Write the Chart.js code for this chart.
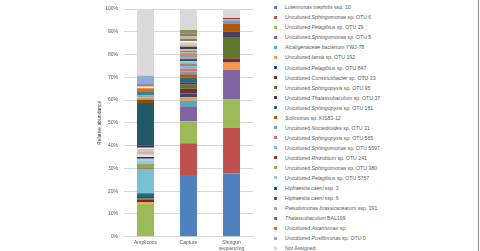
<!DOCTYPE html>
<html><head><meta charset="utf-8">
<script src="https://cdn.jsdelivr.net/npm/chart.js@4"></script>
<style>
html,body{margin:0;padding:0;background:#fff;}
body{width:480px;height:251px;position:relative;overflow:hidden;font-family:"Liberation Sans",Arial,sans-serif;}
#wrap{position:absolute;left:0;top:0;width:260px;height:251px;}
#legend{position:absolute;left:272px;top:0;width:205px;height:251px;}
.li{position:absolute;left:0;height:10px;width:205px;}
.sw{position:absolute;left:2px;top:3.5px;width:3px;height:3px;}
.tx{position:absolute;left:13px;top:0;line-height:10px;font-size:5.2px;color:#595959;white-space:nowrap;}
#edge{position:absolute;left:478px;top:0;width:1px;height:251px;background:#8c8c8c;}
</style></head>
<body>
<div id="wrap"><canvas id="c"></canvas></div>
<div id="legend"></div>
<div id="edge"></div>
<script>
const categories = ['Amplicons', 'Capture', ['Shotgun', 'sequencing']];
const yTicks = [0, 10, 20, 30, 40, 50, 60, 70, 80, 90, 100];

const seriesNames = [
  'Luteimonas mephitis ssp. 10',
  'Uncultured Sphingomonas sp. OTU 6',
  'Uncultured Pelagibius sp. OTU 29',
  'Uncultured Sphingomonas sp. OTU 5',
  'Alcaligenaceae bacterium YWJ-78',
  'Uncultured Iamia sp. OTU 192',
  'Uncultured Pelagibius sp. OTU 847',
  'Uncultured Constrictibacter sp. OTU 33',
  'Uncultured Sphingopyxis sp. OTU 95',
  'Uncultured Thalassobaculum sp. OTU 37',
  'Uncultured Sphingopyxis sp. OTU 181',
  'Solimonas sp. KIS83-12',
  'Uncultured Nocardioides sp. OTU 31',
  'Uncultured Sphingopyxis sp. OTU 565',
  'Uncultured Sphingomonas sp. OTU 5597',
  'Uncultured Rhizobium sp. OTU 241',
  'Uncultured Sphingomonas sp. OTU 380',
  'Uncultured Pelagibius sp. OTU 5757',
  'Unlisted taxon 1', 'Unlisted taxon 2', 'Unlisted taxon 3', 'Unlisted taxon 4',
  'Unlisted taxon 5', 'Unlisted taxon 6', 'Unlisted taxon 7',
  'Hiphaestia caeni ssp. 3',
  'Hiphaestia caeni ssp. 6',
  'Pseudomonas brassicacearum ssp. 291',
  'Unlisted taxon 8',
  'Thalassobaculum BAL199',
  'Uncultured Alcanivorax sp.',
  'Unlisted taxon 9', 'Unlisted taxon 10', 'Unlisted taxon 11',
  'Uncultured Pusillimonas sp. OTU 0',
  'Unlisted taxon 12', 'Unlisted taxon 13', 'Unlisted taxon 14', 'Unlisted taxon 15',
  'Unlisted taxon 16', 'Unlisted taxon 17', 'Unlisted taxon 18', 'Unlisted taxon 19',
  'Unlisted taxon 20', 'Unlisted taxon 21',
  'Not Assigned'
];

const italicParts = [
  'Luteimonas mephitis', 'Sphingomonas', 'Pelagibius', 'Sphingomonas', 'Alcaligenaceae',
  'Iamia', 'Pelagibius', 'Constrictibacter', 'Sphingopyxis', 'Thalassobaculum',
  'Sphingopyxis', 'Solimonas', 'Nocardioides', 'Sphingopyxis', 'Sphingomonas',
  'Rhizobium', 'Sphingomonas', 'Pelagibius',
  '', '', '', '', '', '', '',
  'Hiphaestia caeni', 'Hiphaestia caeni', 'Pseudomonas brassicacearum',
  '',
  'Thalassobaculum', 'Alcanivorax',
  '', '', '',
  'Pusillimonas',
  '', '', '', '', '', '', '', '', '', '',
  ''
];

const seriesColors = [
  '#4F81BD', '#C0504D', '#9BBB59', '#8064A2', '#4BACC6', '#F79646',
  '#2C4D75', '#772C2A', '#5F7530', '#4D3B62', '#276A7C', '#B65708',
  '#729ACA', '#CD7371', '#78C0D3', '#953735', '#8DAA4E', '#93CDDD',
  '#B9CDE5', '#1F3864', '#DCE6F2', '#D9B38C', '#CCC0DA', '#EBF1DE', '#3F3151',
  '#215968', '#984807', '#B3A2C7',
  '#9BB45F',
  '#31859C', '#E46C0A',
  '#F2F2F2', '#E6B9B8', '#8E8AA8',
  '#8EA9DB',
  '#948A54', '#C0C0C0', '#404040', '#BFBFBF', '#DDC9B4',
  '#F2F2F2', '#8C7B70', '#C4BD97', '#7F7F7F', '#948A54',
  '#D9D9D9'
];

const amplicons = [
  0, 0, 14.5, 0, 0, 0.7, 0, 1.1, 0.5, 0.6, 1.7, 0, 0, 0, 10.6, 0.2, 2.3, 1.1,
  0.9, 0.8, 1.0, 1.2, 1.3, 0.6, 0.8,
  18.8, 1.5, 1.0,
  0.8,
  1.5, 1.7,
  0.4, 0.6, 0.9,
  3.6,
  0, 0, 0, 0, 0, 0, 0, 0, 0, 0,
  29.3
];

const capture = [
  27.1, 13.9, 9.7, 6.6, 2.4, 1.5, 1.7, 2.1, 1.7, 1.1, 2.1, 1.4, 1.2, 1.4, 1.2, 0.5, 0.6, 0.8,
  0, 0, 0, 0, 0, 0, 0,
  0.6, 0.6, 0.8,
  0,
  0.6, 0.5,
  0, 0, 0,
  0.8,
  0.8, 0.7, 1.0, 0.8, 1.1, 0.7, 0.9, 1.2, 1.3, 1.4,
  9.2
];

const shotgun = [
  27.8, 20.0, 12.6, 12.8, 0, 3.3, 0, 1.8, 9.4, 2.2, 0.3, 3.2, 1.5, 0.3, 0.3, 0.6, 0, 0,
  0, 0, 0, 0, 0, 0, 0,
  0, 0, 0,
  0,
  0, 0,
  0, 0, 0,
  0,
  0, 0, 0, 0, 0, 0, 0, 0, 0, 0,
  3.9
];

const datasets = seriesNames.map((name, i) => ({
  label: name,
  data: [amplicons[i], capture[i], shotgun[i]],
  backgroundColor: seriesColors[i],
  borderWidth: 0,
  barPercentage: 0.395,
  categoryPercentage: 1.0,
  stack: 's'
}));

const FONT = '"Liberation Sans", Arial, sans-serif';

const chart = new Chart(document.getElementById('c'), {
  type: 'bar',
  data: { labels: categories, datasets },
  options: {
    responsive: true,
    maintainAspectRatio: false,
    animation: false,
    devicePixelRatio: 1,
    layout: { padding: { left: 96.7, right: 7, top: 6.7, bottom: 0 } },
    plugins: { legend: { display: false }, tooltip: { enabled: false } },
    scales: {
      x: {
        stacked: true,
        grid: { display: false, drawTicks: false },
        border: { display: true, color: '#D9D9D9', width: 1 },
        ticks: { color: '#595959', font: { family: FONT, size: 5 }, padding: 3, maxRotation: 0, autoSkip: false },
        afterFit: s => { s.height = 14.3; }
      },
      y: {
        stacked: true,
        min: 0, max: 100,
        afterBuildTicks: s => { s.ticks = yTicks.map(v => ({ value: v })); },
        grid: { color: '#D9D9D9', lineWidth: 1, drawTicks: false },
        border: { display: false },
        ticks: { color: '#595959', font: { family: FONT, size: 5 }, padding: 6, callback: v => v + '%' },
        title: { display: true, text: 'Relative abundance', color: '#404040', font: { family: FONT, size: 5 }, padding: 0 },
        afterFit: s => { s.width = 27.3; }
      }
    }
  }
});

// HTML legend built from the chart's datasets (unlisted taxa are not shown)
const legend = document.getElementById('legend');
let row = 0;
chart.data.datasets.forEach((ds, i) => {
  if (ds.label.startsWith('Unlisted')) return;
  const li = document.createElement('div');
  li.className = 'li';
  li.style.top = (2.28 + row * 10.04) + 'px';
  const sw = document.createElement('div');
  sw.className = 'sw';
  sw.style.background = ds.backgroundColor;
  const tx = document.createElement('div');
  tx.className = 'tx';
  const it = italicParts[i];
  const k = it ? ds.label.indexOf(it) : -1;
  if (k >= 0) {
    tx.appendChild(document.createTextNode(ds.label.slice(0, k)));
    const em = document.createElement('i');
    em.textContent = it;
    tx.appendChild(em);
    tx.appendChild(document.createTextNode(ds.label.slice(k + it.length)));
  } else {
    tx.textContent = ds.label;
  }
  li.appendChild(sw);
  li.appendChild(tx);
  legend.appendChild(li);
  row++;
});
</script>
</body></html>
